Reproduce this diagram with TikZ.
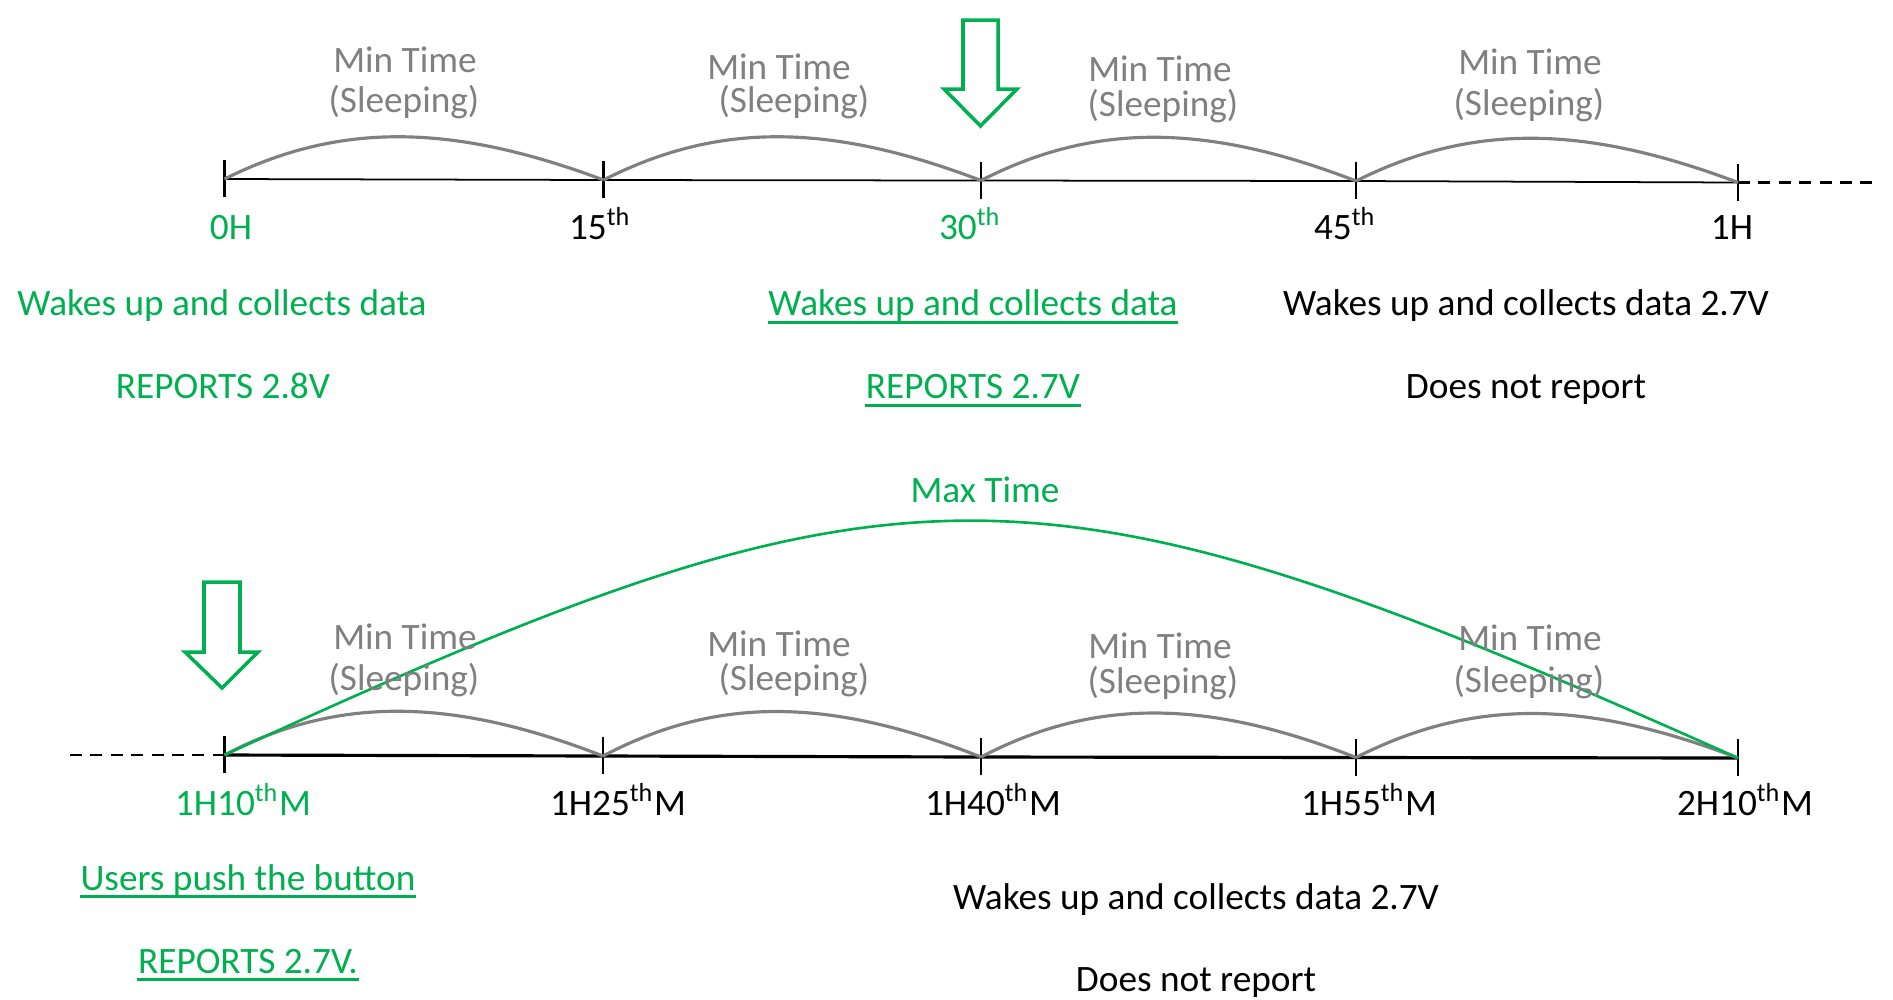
\documentclass[tikz,border=0pt]{standalone}
\usepackage{fontspec}
\setmainfont{Carlito}
\definecolor{okgreen}{RGB}{0,176,80}
\definecolor{midgray}{RGB}{128,128,128}
\begin{document}
\begin{tikzpicture}[x=0.01cm,y=-0.01cm,
  txt/.style={anchor=base,inner sep=0pt,font=\fontsize{10.6}{12.7}\selectfont},
  gtxt/.style={txt,text=okgreen},
  stxt/.style={txt,text=midgray},
  axisthin/.style={draw=black,line width=0.5pt},
  axisthick/.style={draw=black,line width=0.9pt},
  tickmark/.style={draw=black,line width=0.6pt},
  sleeparc/.style={draw=midgray,line width=0.9pt},
  maxarc/.style={draw=okgreen,line width=0.75pt},
  dashline/.style={draw=black,line width=0.8pt,dash pattern=on 3.4pt off 2.4pt},
  uline/.style={draw=okgreen,line width=0.85pt},
  pointer/.style={draw=okgreen,line width=1pt,line join=miter}]
\useasboundingbox (0,0) rectangle (1893,999);

% ---------- upper time line ----------
\coordinate (t0) at (224.5,179);
\coordinate (t1) at (603.5,180);
\coordinate (t2) at (981,180.5);
\coordinate (t3) at (1356,181);
\coordinate (t4) at (1738,182.5);
\coordinate (tend) at (1879,182.5);

\draw[axisthin] (t0) -- (t1) -- (t2) -- (t3) -- (t4);
\draw[dashline] (t4) -- (tend);
\foreach \c in {t0,t1,t2,t3,t4}
  \draw[tickmark] (\c) ++(0,-19) -- ++(0,37);

\draw[sleeparc] (t0) .. controls +(114,-57) and +(-152,-57) .. (t1);
\draw[sleeparc] (t1) .. controls +(114,-58) and +(-152,-58) .. (t2);
\draw[sleeparc] (t2) .. controls +(113,-58) and +(-150,-58) .. (t3);
\draw[sleeparc] (t3) .. controls +(116,-58) and +(-154,-58) .. (t4);

\node[stxt] (um1) at (405,72)  {Min Time};
\node[stxt] (us1) at (404,112) {(Sleeping)};
\node[stxt] (um2) at (779,79)  {Min Time};
\node[stxt] (us2) at (794,112) {(Sleeping)};
\node[stxt] (um3) at (1160,81) {Min Time};
\node[stxt] (us3) at (1163,116) {(Sleeping)};
\node[stxt] (um4) at (1530,74) {Min Time};
\node[stxt] (us4) at (1529,115) {(Sleeping)};

\node[gtxt] (ul0) at (231,239)  {0H};
\node[txt]  (ul1) at (600,239)  {15\textsuperscript{th}};
\node[gtxt] (ul2) at (970,239)  {30\textsuperscript{th}};
\node[txt]  (ul3) at (1345,239) {45\textsuperscript{th}};
\node[txt]  (ul4) at (1732,239) {1H};

% wake-up arrow at the 30th minute
\draw[pointer] (963,20) -- (998,20) -- (998,89) -- (1017,89) -- (980.5,126)
  -- (944,89) -- (963,89) -- cycle;

\node[gtxt] (uw1) at (222,315) {Wakes up and collects data};
\node[gtxt] (ur1) at (223,398) {REPORTS 2.8V};
\node[gtxt] (uw2) at (973,315) {Wakes up and collects data};
\node[gtxt] (ur2) at (973,398) {REPORTS 2.7V};
\draw[uline] ([yshift=-2pt]uw2.base west) -- ([yshift=-2pt]uw2.base east);
\draw[uline] ([yshift=-2pt]ur2.base west) -- ([yshift=-2pt]ur2.base east);
\node[txt] (uw3) at (1526,315) {Wakes up and collects data 2.7V};
\node[txt] (ur3) at (1526,398) {Does not report};

% ---------- lower time line ----------
\coordinate (bstart) at (70,755);
\coordinate (b0) at (224.5,755);
\coordinate (b1) at (603,756);
\coordinate (b2) at (981,757);
\coordinate (b3) at (1356,757.5);
\coordinate (b4) at (1738,758);

\draw[dashline] (bstart) -- (b0);
\draw[axisthick] (b0) -- (b1) -- (b2) -- (b3) -- (b4);
\foreach \c in {b0,b1,b2,b3,b4}
  \draw[tickmark] (\c) ++(0,-19) -- ++(0,37);

\draw[sleeparc] (b0) .. controls +(112,-59) and +(-152,-59) .. (b1);
\draw[sleeparc] (b1) .. controls +(114,-60) and +(-152,-60) .. (b2);
\draw[sleeparc] (b2) .. controls +(113,-59) and +(-150,-59) .. (b3);
\draw[sleeparc] (b3) .. controls +(116,-59) and +(-154,-59) .. (b4);

\draw[maxarc] (b0) .. controls (905,442) and (1032,442) .. (b4);
\node[gtxt] (maxlbl) at (985,502) {Max Time};

\node[stxt] (lm1) at (405,649)  {Min Time};
\node[stxt] (ls1) at (404,690)  {(Sleeping)};
\node[stxt] (lm2) at (779,656)  {Min Time};
\node[stxt] (ls2) at (794,690)  {(Sleeping)};
\node[stxt] (lm3) at (1160,658) {Min Time};
\node[stxt] (ls3) at (1163,693) {(Sleeping)};
\node[stxt] (lm4) at (1530,650) {Min Time};
\node[stxt] (ls4) at (1529,692) {(Sleeping)};

\node[gtxt] (ll0) at (243,815)  {1H10\textsuperscript{th}M};
\node[txt]  (ll1) at (618,815)  {1H25\textsuperscript{th}M};
\node[txt]  (ll2) at (993,815)  {1H40\textsuperscript{th}M};
\node[txt]  (ll3) at (1369,815) {1H55\textsuperscript{th}M};
\node[txt]  (ll4) at (1745,815) {2H10\textsuperscript{th}M};

% button-press arrow
\draw[pointer] (204,582) -- (240,582) -- (240,652) -- (258,652) -- (222,688)
  -- (185,652) -- (204,652) -- cycle;

\node[gtxt] (lw1) at (248,890) {Users push the button};
\node[gtxt] (lr1) at (248,973) {REPORTS 2.7V.};
\draw[uline] ([yshift=-1.8pt]lw1.base west) -- ([yshift=-1.8pt]lw1.base east);
\draw[uline] ([yshift=-1.8pt]lr1.base west) -- ([yshift=-1.8pt]lr1.base east);
\node[txt] (lw2) at (1196,909) {Wakes up and collects data 2.7V};
\node[txt] (lr2) at (1196,991) {Does not report};
\end{tikzpicture}
\end{document}
